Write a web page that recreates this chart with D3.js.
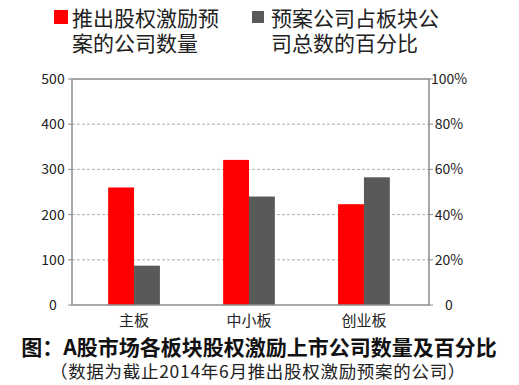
<!DOCTYPE html>
<html>
<head>
<meta charset="utf-8">
<script src="https://cdn.jsdelivr.net/npm/d3@7"></script>
<style>
  body { margin: 0; background: #fff; }
  text { font-family: "Noto Sans CJK SC", "Noto Sans", sans-serif; }
</style>
</head>
<body>
<div id="chart"></div>
<script>
var boards = ['主板', '中小板', '创业板'];
var companyCounts = [260, 321, 223];   // 推出股权激励预案的公司数量
var sharePercents = [17.4, 48, 56.5];  // 预案公司占板块公司总数的百分比
var leftTicks = [0, 100, 200, 300, 400, 500];
var rightTicks = [0, 20, 40, 60, 80, 100];

var w = 519, h = 385;
var plotL = 72, plotR = 429, plotT = 79, plotB = 305;

var svg = d3.select('#chart').append('svg')
  .attr('width', w).attr('height', h);

var x = d3.scaleBand().domain(boards).range([76, 422]).paddingInner(0.55).paddingOuter(0.28);
var yL = d3.scaleLinear().domain([0, 500]).range([plotB, plotT]);
var yR = d3.scaleLinear().domain([0, 100]).range([plotB, plotT]);

// gridlines
svg.selectAll('line.grid')
  .data(leftTicks.filter(function(d) { return d > 0 && d < 500; }))
  .enter().append('line')
  .attr('x1', plotL).attr('x2', plotR)
  .attr('y1', function(d) { return yL(d); }).attr('y2', function(d) { return yL(d); })
  .attr('stroke', '#b0b0b0').attr('stroke-dasharray', '3,2').attr('stroke-width', 1);

// bars
var bw = x.bandwidth() / 2;
svg.selectAll('rect.count').data(boards).enter().append('rect')
  .attr('x', function(d) { return x(d); })
  .attr('y', function(d, i) { return yL(companyCounts[i]); })
  .attr('width', bw)
  .attr('height', function(d, i) { return plotB - yL(companyCounts[i]); })
  .attr('fill', '#ff0000');

svg.selectAll('rect.share').data(boards).enter().append('rect')
  .attr('x', function(d) { return x(d) + bw; })
  .attr('y', function(d, i) { return yR(sharePercents[i]); })
  .attr('width', bw)
  .attr('height', function(d, i) { return plotB - yR(sharePercents[i]); })
  .attr('fill', '#595959');

// frame
svg.append('rect')
  .attr('x', plotL).attr('y', plotT)
  .attr('width', plotR - plotL).attr('height', plotB - plotT)
  .attr('fill', 'none').attr('stroke', '#8c8c8c').attr('stroke-width', 1.5);

// left axis labels + ticks
svg.selectAll('line.lt').data(leftTicks).enter().append('line')
  .attr('x1', plotL - 4).attr('x2', plotL)
  .attr('y1', function(d) { return yL(d); }).attr('y2', function(d) { return yL(d); })
  .attr('stroke', '#8c8c8c');
svg.selectAll('text.lt').data(leftTicks).enter().append('text')
  .attr('x', 53).attr('y', function(d) { return yL(d) + 5; })
  .attr('text-anchor', 'middle').attr('font-size', 14).attr('fill', '#222')
  .text(function(d) { return d; });

// right axis labels
svg.selectAll('line.rt').data(rightTicks).enter().append('line')
  .attr('x1', plotR).attr('x2', plotR + 4)
  .attr('y1', function(d) { return yR(d); }).attr('y2', function(d) { return yR(d); })
  .attr('stroke', '#8c8c8c');
svg.selectAll('text.rt').data(rightTicks).enter().append('text')
  .attr('x', 449).attr('y', function(d) { return yR(d) + 5; })
  .attr('text-anchor', 'middle').attr('font-size', 14).attr('fill', '#222')
  .text(function(d) { return d === 0 ? '0' : d + '%'; });

// category labels
svg.selectAll('text.cat').data(boards).enter().append('text')
  .attr('x', function(d) { return x(d) + x.bandwidth() / 2; })
  .attr('y', 326)
  .attr('text-anchor', 'middle').attr('font-size', 15).attr('fill', '#222')
  .text(function(d) { return d; });

// legend
var legend = [
  { color: '#ff0000', sx: 54, sy: 10, s: 14, tx: 72, lines: ['推出股权激励预', '案的公司数量'] },
  { color: '#595959', sx: 252, sy: 11, s: 12, tx: 271, lines: ['预案公司占板块公', '司总数的百分比'] }
];
legend.forEach(function(l) {
  svg.append('rect').attr('x', l.sx).attr('y', l.sy).attr('width', l.s).attr('height', l.s).attr('fill', l.color);
  l.lines.forEach(function(t, i) {
    svg.append('text').attr('x', l.tx).attr('y', 26 + i * 25)
      .attr('font-size', 21).attr('fill', '#222').text(t);
  });
});

// title
svg.append('text').attr('x', 259).attr('y', 355)
  .attr('text-anchor', 'middle').attr('font-size', 21).attr('font-weight', 'bold').attr('fill', '#111')
  .text('图：A股市场各板块股权激励上市公司数量及百分比');
svg.append('text').attr('x', 258).attr('y', 378)
  .attr('text-anchor', 'middle').attr('font-size', 17.5).attr('letter-spacing', 0.7).attr('fill', '#222')
  .text('（数据为截止2014年6月推出股权激励预案的公司）');
</script>
</body>
</html>
